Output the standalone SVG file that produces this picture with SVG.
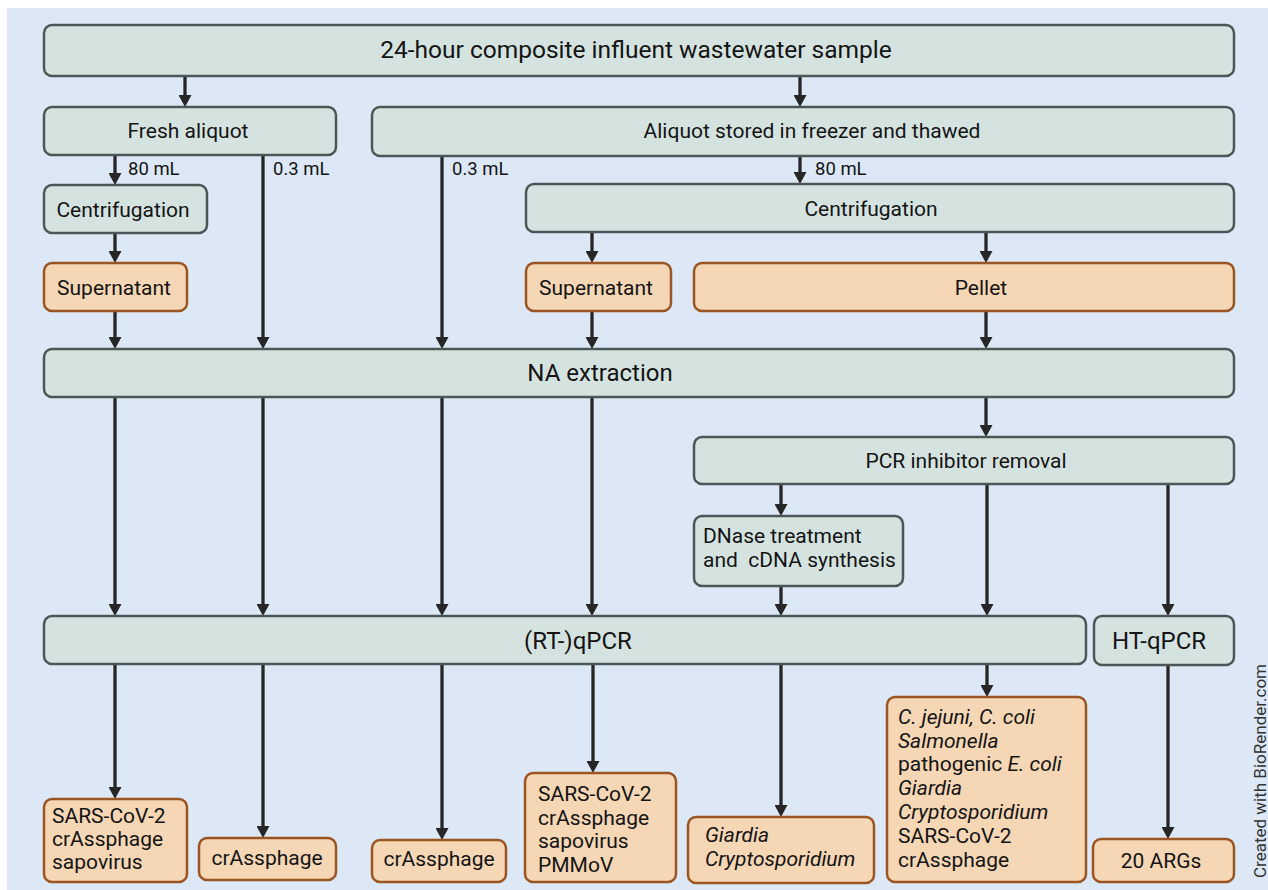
<svg xmlns="http://www.w3.org/2000/svg" width="1268" height="890" viewBox="0 0 1268 890">
<defs>
<style>
.g{fill:#d5e3e0;stroke:#4b5757;stroke-width:2.5}
.o{fill:#f5d6b5;stroke:#9b5522;stroke-width:2.5}
text{font-family:Roboto,"Liberation Sans",Arial,sans-serif;fill:#141414}
.t21{font-size:21px}
.t23{font-size:24px}
.t18{font-size:18.5px}
.m{text-anchor:middle}
.i{font-style:italic}
.c line{stroke:#262626;stroke-width:3.3;marker-end:url(#ah)}
</style>
<marker id="ah" viewBox="0 0 12 13" refX="0" refY="6.5" markerWidth="12" markerHeight="13" markerUnits="userSpaceOnUse" orient="auto">
<path d="M0,0 L12,6.5 L0,13 Z" fill="#262626"/>
</marker>
</defs>
<rect x="0" y="0" width="1268" height="890" fill="#ffffff"/>
<rect x="7" y="8" width="1261" height="882" fill="#dce8f5"/>

<g class="c" id="connectors">
<line x1="185" y1="77" x2="185" y2="95"/>
<line x1="800" y1="77" x2="800" y2="95"/>
<line x1="115" y1="155" x2="115" y2="173"/>
<line x1="263" y1="155" x2="263" y2="337"/>
<line x1="115" y1="233" x2="115" y2="251"/>
<line x1="115" y1="311" x2="115" y2="337"/>
<line x1="442" y1="156" x2="442" y2="337"/>
<line x1="800" y1="156" x2="800" y2="172"/>
<line x1="592" y1="232" x2="592" y2="251"/>
<line x1="986" y1="232" x2="986" y2="251"/>
<line x1="592" y1="311" x2="592" y2="337"/>
<line x1="986" y1="311" x2="986" y2="337"/>
<line x1="115" y1="397" x2="115" y2="604"/>
<line x1="263" y1="397" x2="263" y2="604"/>
<line x1="442" y1="397" x2="442" y2="604"/>
<line x1="592" y1="397" x2="592" y2="604"/>
<line x1="986" y1="397" x2="986" y2="425"/>
<line x1="781" y1="484" x2="781" y2="504"/>
<line x1="781" y1="586" x2="781" y2="604"/>
<line x1="987" y1="484" x2="987" y2="604"/>
<line x1="1168" y1="484" x2="1168" y2="604"/>
<line x1="115" y1="664" x2="115" y2="787"/>
<line x1="263" y1="664" x2="263" y2="826"/>
<line x1="442" y1="664" x2="442" y2="828"/>
<line x1="593" y1="664" x2="593" y2="761"/>
<line x1="781" y1="664" x2="781" y2="805"/>
<line x1="987" y1="664" x2="987" y2="685"/>
<line x1="1168" y1="665" x2="1168" y2="827"/>
</g>

<g id="labels">
<text class="t18" x="128" y="175">80 mL</text>
<text class="t18" x="273" y="175">0.3 mL</text>
<text class="t18" x="452" y="175">0.3 mL</text>
<text class="t18" x="815" y="175">80 mL</text>
</g>

<g id="sample"><rect class="g" x="44" y="25" width="1190" height="51" rx="8"/><text class="m" style="font-size:24.5px" x="636" y="58">24-hour composite influent wastewater sample</text></g>
<g id="fresh"><rect class="g" x="44" y="107" width="292" height="48" rx="8"/><text class="t21 m" x="188" y="138">Fresh aliquot</text></g>
<g id="frozen"><rect class="g" x="372" y="107" width="862" height="49" rx="8"/><text class="t21 m" x="812" y="138">Aliquot stored in freezer and thawed</text></g>
<g id="centri1"><rect class="g" x="44" y="185" width="163" height="48" rx="8"/><text class="t21 m" x="123" y="217">Centrifugation</text></g>
<g id="centri2"><rect class="g" x="526" y="184" width="708" height="48" rx="8"/><text class="t21 m" x="871" y="216">Centrifugation</text></g>
<g id="super1"><rect class="o" x="44" y="263" width="143" height="48" rx="8"/><text class="t21 m" x="114" y="295">Supernatant</text></g>
<g id="super2"><rect class="o" x="526" y="263" width="145" height="48" rx="8"/><text class="t21 m" x="596" y="295">Supernatant</text></g>
<g id="pellet"><rect class="o" x="694" y="263" width="540" height="48" rx="8"/><text class="t21 m" x="981" y="295">Pellet</text></g>
<g id="na"><rect class="g" x="44" y="349" width="1190" height="48" rx="8"/><text class="t23 m" x="600" y="381">NA extraction</text></g>
<g id="inhib"><rect class="g" x="694" y="437" width="540" height="47" rx="8"/><text class="t21 m" x="966" y="468">PCR inhibitor removal</text></g>
<g id="dnase"><rect class="g" x="694" y="516" width="209" height="70" rx="8"/><text class="t21" x="703" y="543">DNase treatment</text><text class="t21" x="703" y="567" xml:space="preserve">and  cDNA synthesis</text></g>
<g id="qpcr"><rect class="g" x="44" y="616" width="1042" height="48" rx="8"/><text class="t23 m" x="578" y="649">(RT-)qPCR</text></g>
<g id="htqpcr"><rect class="g" x="1094" y="616" width="140" height="49" rx="8"/><text class="t23 m" x="1159" y="649">HT-qPCR</text></g>

<g id="out1"><rect class="o" x="44" y="799" width="143" height="83" rx="8"/><text class="t21" x="52" y="823">SARS-CoV-2</text><text class="t21" x="52" y="846">crAssphage</text><text class="t21" x="52" y="869">sapovirus</text></g>
<g id="out2"><rect class="o" x="199" y="838" width="137" height="42" rx="8"/><text class="t21 m" x="267" y="865">crAssphage</text></g>
<g id="out3"><rect class="o" x="372" y="840" width="134" height="42" rx="8"/><text class="t21 m" x="439" y="866">crAssphage</text></g>
<g id="out4"><rect class="o" x="525" y="773" width="151" height="109" rx="8"/><text class="t21" x="538" y="801">SARS-CoV-2</text><text class="t21" x="538" y="824.5">crAssphage</text><text class="t21" x="538" y="848">sapovirus</text><text class="t21" x="538" y="871.5">PMMoV</text></g>
<g id="out5"><rect class="o" x="688" y="817" width="186" height="66" rx="8"/><text class="t21 i" x="705" y="842">Giardia</text><text class="t21 i" x="705" y="866">Cryptosporidium</text></g>
<g id="out6"><rect class="o" x="887" y="697" width="199" height="185" rx="8"/><text class="t21 i" x="898" y="724">C. jejuni, C. coli</text><text class="t21 i" x="898" y="748">Salmonella</text><text class="t21" x="898" y="771">pathogenic <tspan class="i">E. coli</tspan></text><text class="t21 i" x="898" y="795">Giardia</text><text class="t21 i" x="898" y="819">Cryptosporidium</text><text class="t21" x="898" y="843">SARS-CoV-2</text><text class="t21" x="898" y="867">crAssphage</text></g>
<g id="out7"><rect class="o" x="1093" y="839" width="141" height="43" rx="8"/><text class="t21 m" x="1161" y="868">20 ARGs</text></g>

<text x="1266" y="771" font-size="17" text-anchor="middle" transform="rotate(-90 1266 771)" style="font-family:Roboto,'Liberation Sans',sans-serif;fill:#333">Created with BioRender.com</text>
</svg>
